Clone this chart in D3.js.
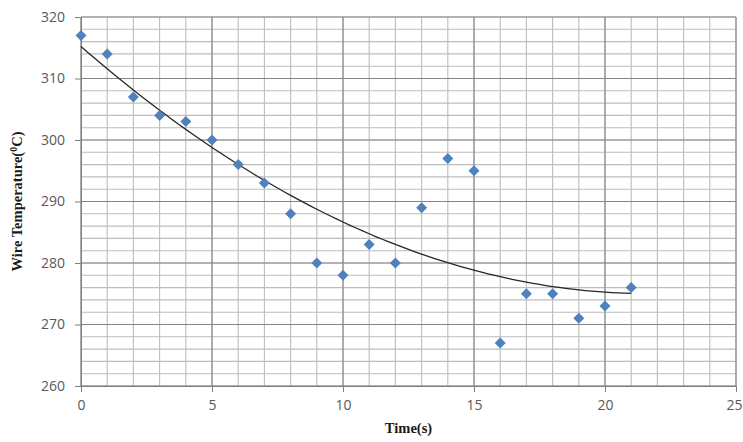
<!DOCTYPE html>
<html>
<head>
<meta charset="utf-8">
<script src="https://cdn.jsdelivr.net/npm/d3@7"></script>
<style>
  body { margin: 0; background: #fff; }
  .tick text { font-family: "Open Sans", "Liberation Sans", sans-serif; font-size: 14px; fill: #595959; }
  .title { font-family: "Liberation Serif", "DejaVu Serif", serif; font-weight: bold; font-size: 14.5px; fill: #1a1a1a; }
</style>
</head>
<body>
<svg id="chart" width="743" height="442"></svg>
<script>
// data
let timeS = [0, 1, 2, 3, 4, 5, 6, 7, 8, 9, 10, 11, 12, 13, 14, 15, 16, 17, 18, 19, 20, 21];
let wireTemp = [317, 314, 307, 304, 303, 300, 296, 293, 288, 280, 278, 283, 280, 289, 297, 295, 267, 275, 275, 271, 273, 276];
let xTicks = [0, 5, 10, 15, 20, 25];
let yTicks = [260, 270, 280, 290, 300, 310, 320];
let xMinor = d3.range(0, 26, 1);
let yMinor = d3.range(260, 321, 2);

let margin = { left: 81, right: 7, top: 17, bottom: 56 };
let width = 743, height = 442;

let svg = d3.select("#chart");

let x = d3.scaleLinear().domain([0, 25]).range([margin.left, width - margin.right]);
let y = d3.scaleLinear().domain([260, 320]).range([height - margin.bottom, margin.top]);

// minor grid
let grid = svg.append("g");
grid.selectAll("line.vmin").data(xMinor).enter().append("line")
  .attr("x1", d => x(d)).attr("x2", d => x(d))
  .attr("y1", y(260)).attr("y2", y(320))
  .attr("stroke", "#bdbdbd").attr("stroke-width", 1.1);
grid.selectAll("line.hmin").data(yMinor).enter().append("line")
  .attr("x1", x(0)).attr("x2", x(25))
  .attr("y1", d => y(d)).attr("y2", d => y(d))
  .attr("stroke", "#bdbdbd").attr("stroke-width", 1.1);

// major grid
grid.selectAll("line.vmaj").data(xTicks).enter().append("line")
  .attr("x1", d => x(d)).attr("x2", d => x(d))
  .attr("y1", y(260)).attr("y2", y(320))
  .attr("stroke", "#858585").attr("stroke-width", 1.1);
grid.selectAll("line.hmaj").data(yTicks).enter().append("line")
  .attr("x1", x(0)).attr("x2", x(25))
  .attr("y1", d => y(d)).attr("y2", d => y(d))
  .attr("stroke", "#858585").attr("stroke-width", 1.1);

// axes
let xAxis = d3.axisBottom(x).tickValues(xTicks).tickSize(6).tickPadding(8);
let gx = svg.append("g")
  .attr("transform", "translate(0," + y(260) + ")")
  .call(xAxis);
gx.select(".domain").attr("stroke", "#7f7f7f");
gx.selectAll(".tick line").attr("stroke", "#7f7f7f");
// last label sits at the right edge, keep it inside the page
gx.selectAll(".tick text").filter(d => d === 25).attr("dx", -2);

let yAxis = d3.axisLeft(y).tickValues(yTicks).tickSize(6).tickPadding(10);
let gy = svg.append("g")
  .attr("transform", "translate(" + x(0) + ",0)")
  .call(yAxis);
gy.select(".domain").attr("stroke", "#7f7f7f");
gy.selectAll(".tick line").attr("stroke", "#7f7f7f");

// quadratic least-squares trendline from the data
function polyFit2(xs, ys) {
  let n = xs.length, s = [0, 0, 0, 0, 0], t = [0, 0, 0];
  for (let i = 0; i < n; i++) {
    let p = 1;
    for (let k = 0; k < 5; k++) { s[k] += p; if (k < 3) t[k] += p * ys[i]; p *= xs[i]; }
  }
  let A = [[s[0], s[1], s[2], t[0]], [s[1], s[2], s[3], t[1]], [s[2], s[3], s[4], t[2]]];
  for (let c = 0; c < 3; c++) {
    for (let r = c + 1; r < 3; r++) {
      let f = A[r][c] / A[c][c];
      for (let k = c; k < 4; k++) A[r][k] -= f * A[c][k];
    }
  }
  let b = [0, 0, 0];
  for (let r = 2; r >= 0; r--) {
    let v = A[r][3];
    for (let k = r + 1; k < 3; k++) v -= A[r][k] * b[k];
    b[r] = v / A[r][r];
  }
  return b;
}
let coef = polyFit2(timeS, wireTemp);
let fitX = d3.range(0, 21.001, 0.25);
let line = d3.line()
  .x(d => x(d))
  .y(d => y(coef[0] + coef[1] * d + coef[2] * d * d));
svg.append("path")
  .datum(fitX)
  .attr("d", line)
  .attr("fill", "none")
  .attr("stroke", "#262626")
  .attr("stroke-width", 1.3);

// markers
svg.selectAll("path.pt").data(timeS).enter().append("path")
  .attr("class", "pt")
  .attr("transform", (d, i) => "translate(" + x(d) + "," + y(wireTemp[i]) + ")")
  .attr("d", "M0,-5.5L5.5,0L0,5.5L-5.5,0Z")
  .attr("fill", "#4f81bd");

// titles
svg.append("text")
  .attr("class", "title")
  .attr("x", (x(0) + x(25)) / 2)
  .attr("y", 433)
  .attr("text-anchor", "middle")
  .text("Time(s)");

let yt = svg.append("text")
  .attr("class", "title")
  .attr("transform", "translate(22," + (y(260) + y(320)) / 2 + ") rotate(-90)")
  .attr("text-anchor", "middle");
yt.append("tspan").text("Wire Temperature(");
yt.append("tspan").attr("dy", -5).attr("font-size", "10px").text("0");
yt.append("tspan").attr("dy", 5).text("C)");
</script>
</body>
</html>
